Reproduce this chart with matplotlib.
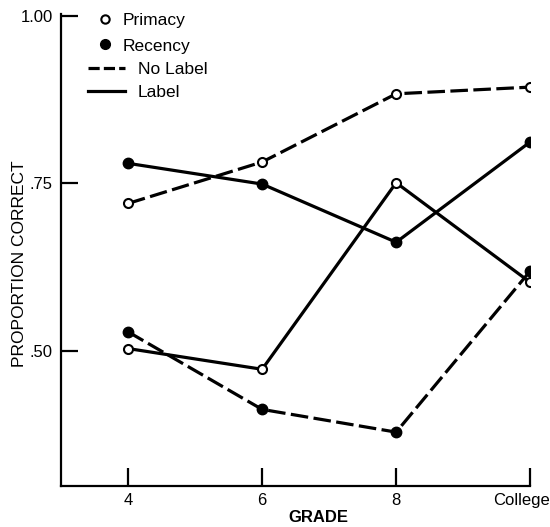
import matplotlib
matplotlib.use("Agg")
import matplotlib.pyplot as plt
from matplotlib.lines import Line2D
from matplotlib.transforms import ScaledTranslation

plt.rcParams['font.family'] = ['Liberation Sans', 'DejaVu Sans']

grades = ["4", "6", "8", "College"]
primacy_no_label = [0.72, 0.782, 0.884, 0.894]
primacy_label = [0.503, 0.472, 0.751, 0.602]
recency_no_label = [0.528, 0.412, 0.378, 0.619]
recency_label = [0.780, 0.749, 0.662, 0.812]
ytick_vals = [0.50, 0.75, 1.00]
ytick_labels = [".50", ".75", "1.00"]

fig = plt.figure(figsize=(5.5, 5.27), dpi=100)
ax = fig.add_axes([0.111, 0.078, 0.853, 0.895])

x = list(range(len(grades)))
lw = 2.3
dash = (0, (5.5, 1.7))
ms = 6.5

ax.plot(x, primacy_no_label, color='black', lw=lw, linestyle=dash, marker='o',
        ms=ms, mfc='white', mec='black', mew=1.5, zorder=3)
ax.plot(x, primacy_label, color='black', lw=lw, linestyle='-', marker='o',
        ms=ms, mfc='white', mec='black', mew=1.5, zorder=3)
ax.plot(x, recency_no_label, color='black', lw=lw, linestyle=dash, marker='o',
        ms=ms + 1, mfc='black', mec='black', zorder=3)
ax.plot(x, recency_label, color='black', lw=lw, linestyle='-', marker='o',
        ms=ms + 1, mfc='black', mec='black', zorder=3)

ax.set_xlim(-0.5, 3.0)
ax.set_ylim(0.2976, 1.003)
ax.set_xticks(x)
ax.set_xticklabels(grades)
ax.set_yticks(ytick_vals)
ax.set_yticklabels(ytick_labels)

for s in ['top', 'right']:
    ax.spines[s].set_visible(False)
for s in ['left', 'bottom']:
    ax.spines[s].set_linewidth(1.6)

ax.tick_params(axis='x', direction='in', length=13, width=1.6, labelsize=12, pad=5)
ax.tick_params(axis='y', direction='in', length=12, width=1.6, labelsize=12, pad=6)

# shift "College" label slightly left as in the reference
lbl = ax.get_xticklabels()[-1]
lbl.set_transform(lbl.get_transform() + ScaledTranslation(-9 / 100, 0, fig.dpi_scale_trans))

ax.set_xlabel("GRADE", fontsize=12, fontweight='bold')
ax.xaxis.set_label_coords(0.548, -0.052)
ax.set_ylabel("PROPORTION CORRECT", fontsize=12.5)
ax.yaxis.set_label_coords(-0.072, 0.472)

h1 = [
    Line2D([], [], linestyle='none', marker='o', ms=6, mfc='white', mec='black', mew=1.5),
    Line2D([], [], linestyle='none', marker='o', ms=7, mfc='black', mec='black'),
]
leg1 = ax.legend(h1, ["Primacy", "Recency"], loc='upper left',
                 bbox_to_anchor=(0.079, 1.003), frameon=False, fontsize=12.5,
                 handlelength=0.8, handletextpad=0.6, labelspacing=0.6,
                 borderaxespad=0, borderpad=0)
ax.add_artist(leg1)
h2 = [
    Line2D([], [], color='black', lw=lw, linestyle=(0, (3.5, 1.3))),
    Line2D([], [], color='black', lw=lw, linestyle='-'),
]
ax.legend(h2, ["No Label", "Label"], loc='upper left',
          bbox_to_anchor=(0.058, 0.898), frameon=False, fontsize=12.5,
          handlelength=2.1, handletextpad=0.75, labelspacing=0.4,
          borderaxespad=0, borderpad=0)

fig.savefig("out.png", dpi=100)
